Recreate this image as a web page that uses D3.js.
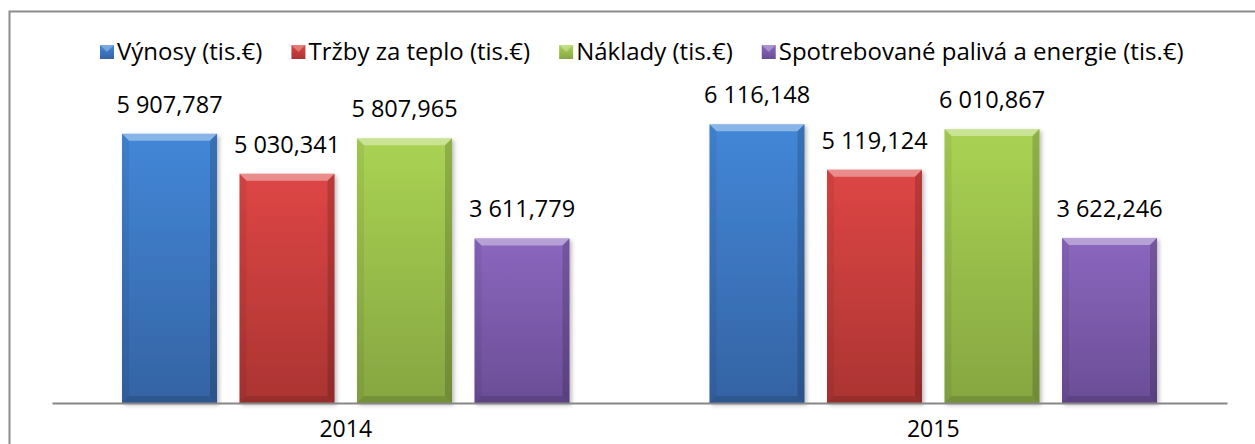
<!DOCTYPE html>
<html>
<head>
<meta charset="utf-8">
<script src="https://cdn.jsdelivr.net/npm/d3@7"></script>
<style>
  html, body { margin: 0; padding: 0; background: #fff; }
  svg { display: block; font-family: "Open Sans", sans-serif; }
</style>
</head>
<body>
<div id="chart"></div>
<script>
// --------------------------------------
//  Data
// --------------------------------------

const categories = ["2014", "2015"];
const seriesNames = [
  "Výnosy (tis.€)",
  "Tržby za teplo (tis.€)",
  "Náklady (tis.€)",
  "Spotrebované palivá a energie (tis.€)"
];
const vynosy = [5907.787, 6116.148];
const trzby = [5030.341, 5119.124];
const naklady = [5807.965, 6010.867];
const spotreba = [3611.779, 3622.246];

const seriesValues = [vynosy, trzby, naklady, spotreba];
const colors = [
  { top: "#4387d8", bottom: "#3463a3" },
  { top: "#de4645", bottom: "#ab3432" },
  { top: "#aad353", bottom: "#86a641" },
  { top: "#8b67be", bottom: "#6a4d96" }
];

// --------------------------------------
//  Canvas
// --------------------------------------

const width = 1255, height = 444;

const svg = d3.select("#chart")
  .append("svg")
    .attr("width", width)
    .attr("height", height)
    .attr("viewBox", [0, 0, width, height]);

const defs = svg.append("defs");

colors.forEach((c, i) => {
  const g = defs.append("linearGradient")
      .attr("id", `grad${i}`)
      .attr("x1", 0).attr("y1", 0)
      .attr("x2", 0).attr("y2", 1);
  g.append("stop").attr("offset", "0%").attr("stop-color", c.top);
  g.append("stop").attr("offset", "100%").attr("stop-color", c.bottom);
});

defs.append("filter")
    .attr("id", "shadow")
    .attr("x", "-10%").attr("y", "-10%")
    .attr("width", "130%").attr("height", "130%")
  .append("feDropShadow")
    .attr("dx", 2).attr("dy", 2)
    .attr("stdDeviation", 2)
    .attr("flood-color", "#000")
    .attr("flood-opacity", 0.28);

// chart border (runs off the right and bottom edge)
svg.append("rect")
    .attr("x", 9.5).attr("y", 11.5)
    .attr("width", 1400).attr("height", 600)
    .attr("fill", "none")
    .attr("stroke", "#8c8c8c")
    .attr("stroke-width", 2);

// --------------------------------------
//  Scales
// --------------------------------------

const x0 = d3.scaleBand()
    .domain(categories)
    .range([52, 1227]);

const x1 = d3.scaleBand()
    .domain(d3.range(seriesNames.length))
    .range([70, x0.bandwidth() - 70])
    .paddingInner(0.1915)
    .paddingOuter(0);

const y = d3.scaleLinear()
    .domain([0, 7000])
    .range([403, 84]);

const fmt = d3.formatLocale({ decimal: ",", thousands: " ", grouping: [3], currency: ["", ""] })
    .format(",.3f");

// --------------------------------------
//  Bars
// --------------------------------------

const cells = [];
categories.forEach((cat, ci) => {
  seriesValues.forEach((vals, si) => {
    cells.push({ cat, si, value: vals[ci] });
  });
});

const bars = svg.append("g")
  .selectAll("g")
  .data(cells)
  .join("g")
    .attr("transform", d => `translate(${x0(d.cat) + x1(d.si)}, ${y(d.value)})`);

const bw = x1.bandwidth();
const b = 7;

bars.append("rect")
    .attr("width", bw)
    .attr("height", d => y(0) - y(d.value))
    .attr("fill", d => `url(#grad${d.si})`)
    .attr("filter", "url(#shadow)");

// bevel edges
bars.append("polygon")
    .attr("points", d => `0,0 ${bw},0 ${bw - b},${b} ${b},${b}`)
    .attr("fill", "#fff").attr("fill-opacity", 0.38);

bars.append("polygon")
    .attr("points", d => {
      const h = y(0) - y(d.value);
      return `0,0 ${b},${b} ${b},${h - b} 0,${h}`;
    })
    .attr("fill", "#000").attr("fill-opacity", 0.06);

bars.append("polygon")
    .attr("points", d => {
      const h = y(0) - y(d.value);
      return `${bw},0 ${bw},${h} ${bw - b},${h - b} ${bw - b},${b}`;
    })
    .attr("fill", "#000").attr("fill-opacity", 0.16);

bars.append("polygon")
    .attr("points", d => {
      const h = y(0) - y(d.value);
      return `0,${h} ${bw},${h} ${bw - b},${h - b} ${b},${h - b}`;
    })
    .attr("fill", "#000").attr("fill-opacity", 0.12);

// value labels
bars.append("text")
    .attr("x", bw / 2)
    .attr("y", -21)
    .attr("text-anchor", "middle")
    .attr("font-size", 23.5)
    .attr("fill", "#000")
    .text(d => fmt(d.value));

// --------------------------------------
//  Axis
// --------------------------------------

const xAxis = svg.append("g")
    .attr("transform", `translate(0, ${y(0)})`)
    .call(d3.axisBottom(x0).tickSize(0).tickPadding(18));

xAxis.select(".domain")
    .attr("stroke", "#878787")
    .attr("stroke-width", 2);

xAxis.selectAll("text")
    .attr("font-family", "Open Sans, sans-serif")
    .attr("font-size", 23)
    .attr("fill", "#000");

// --------------------------------------
//  Legend
// --------------------------------------

const legend = svg.append("g")
    .attr("transform", "translate(0, 60)");

let lx = 100;
seriesNames.forEach((name, i) => {
  const item = legend.append("g").attr("transform", `translate(${lx}, 0)`);
  item.append("rect")
      .attr("x", 0).attr("y", -15)
      .attr("width", 14).attr("height", 14)
      .attr("fill", `url(#grad${i})`);
  item.append("polygon")
      .attr("points", "0,-15 14,-15 7,-8")
      .attr("fill", "#fff").attr("fill-opacity", 0.3);
  const t = item.append("text")
      .attr("x", 17)
      .attr("font-size", 24)
      .attr("fill", "#000")
      .text(name);
  lx += 17 + t.node().getComputedTextLength() + 29;
});
</script>
</body>
</html>
